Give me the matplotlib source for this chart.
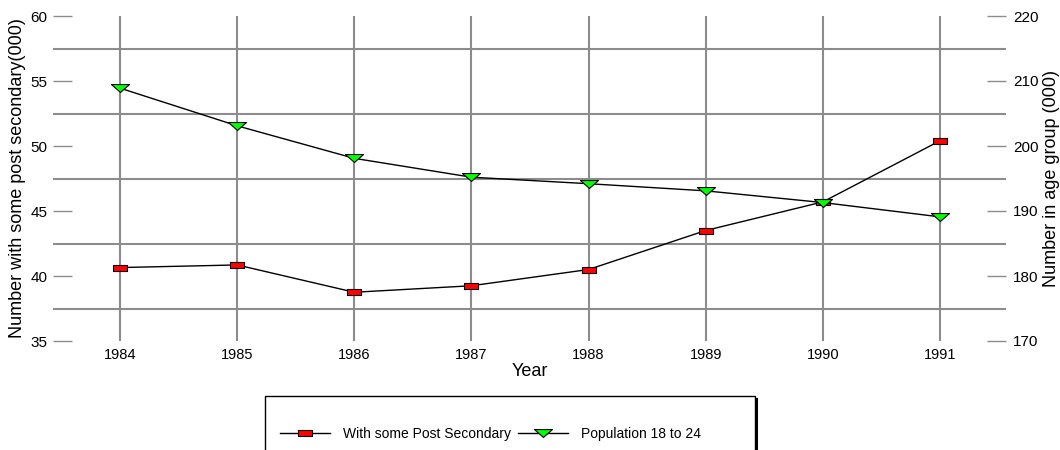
import numpy as np
import matplotlib
matplotlib.use("Agg")
import matplotlib.pyplot as plt
from matplotlib.lines import Line2D
from matplotlib.patches import Rectangle
from matplotlib.ticker import FixedLocator

plt.rcParams['font.family'] = ['Liberation Sans', 'DejaVu Sans']

# data
years = [1984, 1985, 1986, 1987, 1988, 1989, 1990, 1991]
post_secondary = [40.65, 40.85, 38.75, 39.25, 40.5, 43.5, 45.7, 50.4]   # left axis (000)
population = [208.9, 203.1, 198.1, 195.2, 194.2, 193.1, 191.3, 189.1]   # right axis (000)
left_ticks = [35, 40, 45, 50, 55, 60]
right_ticks = [170, 180, 190, 200, 210, 220]
series_labels = ["With some Post Secondary", "Population 18 to 24"]

W, H = 1060, 450
fig = plt.figure(figsize=(W / 100, H / 100), dpi=100)
ax = fig.add_axes([53 / W, 1 - 341 / H, (1006 - 53) / W, 325 / H])
ax2 = ax.twinx()

# custom marker shapes: flat red box, flat green down-triangle
box = [(-1, -0.5), (1, -0.5), (1, 0.5), (-1, 0.5), (-1, -0.5)]
tri = [(-1, 0.44), (1, 0.44), (0, -0.44), (-1, 0.44)]

grid_col = "#8c8c8c"

ax.set_xlim(1983.427, 1991.564)
ax.set_ylim(35, 60)
ax2.set_ylim(170, 220)

# grid: vertical at years, horizontal every 2.5 without the outer edges
ax.set_xticks(years)
ax.set_yticks(left_ticks)
ax.yaxis.set_minor_locator(FixedLocator(np.arange(37.5, 58, 2.5)))
ax.grid(True, axis='x', color=grid_col, lw=1.5)
ax.grid(True, axis='y', which='minor', color=grid_col, lw=1.5)
ax.set_axisbelow(True)

for a in (ax, ax2):
    for s in a.spines.values():
        s.set_visible(False)

ax.tick_params(axis='x', length=0, pad=5, labelsize=10.5)
ax.tick_params(axis='y', which='major', direction='in', length=14, width=1,
               color=grid_col, pad=4, labelsize=11)
ax.tick_params(axis='y', which='minor', length=0)
ax2.set_yticks(right_ticks)
ax2.tick_params(axis='y', direction='in', length=14, width=1, color=grid_col,
                pad=5, labelsize=11)

ax.plot(years, post_secondary, color='black', lw=1, marker=box, markersize=10,
        markerfacecolor='red', markeredgecolor='black', markeredgewidth=0.8,
        zorder=3)
ax2.plot(years, population, color='black', lw=1, marker=tri, markersize=13,
         markerfacecolor='#00ff00', markeredgecolor='black', markeredgewidth=0.8,
         zorder=3)

ax.set_xlabel("Year", fontsize=13, labelpad=1)
ax.set_ylabel("Number with some post secondary(000)", fontsize=13, labelpad=3)
ax2.set_ylabel("Number in age group (000)", fontsize=13, labelpad=3)

# legend box with dark shadow on the right
fig.patches.append(Rectangle((268 / W, -0.05), 490 / W, 1 - 398 / H + 0.05,
                             transform=fig.transFigure, facecolor='black',
                             edgecolor='none', zorder=0))
fig.patches.append(Rectangle((265 / W, -0.05), 490 / W, 1 - 396 / H + 0.05,
                             transform=fig.transFigure, facecolor='white',
                             edgecolor='black', lw=1, zorder=1))

handles = [
    Line2D([], [], color='black', lw=1, marker=box, markersize=10,
           markerfacecolor='red', markeredgecolor='black', markeredgewidth=0.8),
    Line2D([], [], color='black', lw=1, marker=tri, markersize=13,
           markerfacecolor='#00ff00', markeredgecolor='black', markeredgewidth=0.8),
]
fig.legend(handles, series_labels, loc='center left',
           bbox_to_anchor=(280 / W, 1 - 434 / H), ncol=2, frameon=False,
           fontsize=10, handlelength=3.6, handletextpad=0.95, columnspacing=0.5,
           borderpad=0, borderaxespad=0)

fig.savefig("out.png", dpi=100)
